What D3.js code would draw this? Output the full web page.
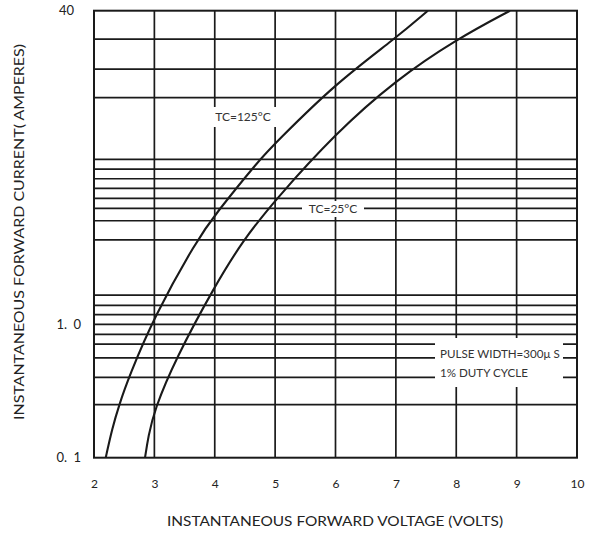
<!DOCTYPE html>
<html>
<head>
<meta charset="utf-8">
<script src="https://cdn.jsdelivr.net/npm/d3@7/dist/d3.min.js"></script>
<style>
  html, body { margin: 0; padding: 0; background: #fff; }
  svg { display: block; }
  text { font-family: Lato, "Open Sans", sans-serif; fill: #222; }
</style>
</head>
<body>
<div id="chart"></div>
<script>
// ---- data ----
const xTicks = [2, 3, 4, 5, 6, 7, 8, 9, 10];
const xTickLabels = ["2", "3", "4", "5", "6", "7", "8", "9", "10"];
const yTicks = [0.1, 1, 40];
const yTickLabels = ["0. 1", "1. 0", "40"];
// horizontal grid lines as drawn on the (distorted) original sheet
const yGrid = [0.25, 0.40, 0.56, 0.71, 0.84, 1.0, 1.12, 1.25, 1.41,
               2.70, 3.38, 3.91, 4.40, 4.95, 5.54, 6.21, 6.96,
               14.4, 20.1, 28.6];
const xGrid = [3, 4, 5, 6, 7, 8, 9];

// Tc = 125 °C
const v125 = [2.194, 2.30, 2.419, 2.58, 3.0, 3.706, 4.0, 4.749, 5.0, 6.0, 7.0, 7.53];
const i125 = [0.10, 0.165, 0.251, 0.405, 1.10, 2.70, 3.62, 6.99, 8.40, 17.0, 29.0, 40];
// Tc = 25 °C
const v25 = [2.845, 2.90, 3.0, 3.342, 4.0, 4.473, 5.0, 6.0, 7.0, 8.0, 8.89];
const i25 = [0.10, 0.145, 0.228, 0.54, 1.57, 2.70, 4.31, 9.45, 17.7, 28.55, 40];

const curveLabels = ["TC=125°C", "TC=25°C"];
const noteLines = ["PULSE WIDTH=300\u03BC S", "1% DUTY CYCLE"];
const xTitle = "INSTANTANEOUS FORWARD VOLTAGE (VOLTS)";
const yTitle = "INSTANTANEOUS FORWARD CURRENT( AMPERES)";

// ---- layout ----
const W = 602, H = 537;
const pL = 94, pR = 577, pT = 10.7, pB = 457.7;
const oneY = 324.3; // where the sheet places 1.0

const svg = d3.select("#chart").append("svg")
  .attr("width", W).attr("height", H)
  .style("background", "#fff");

const x = d3.scaleLinear().domain([2, 10]).range([pL, pR]);
const y = d3.scaleLog().domain([0.1, 1, 40]).range([pB, oneY, pT]);

const ink = "#1a1a1a";

// grid
const g = svg.append("g");
g.selectAll("line.h").data(yGrid).join("line")
  .attr("x1", pL).attr("x2", pR)
  .attr("y1", d => y(d)).attr("y2", d => y(d))
  .attr("stroke", ink).attr("stroke-width", 1.7);
g.selectAll("line.v").data(xGrid).join("line")
  .attr("y1", pT).attr("y2", pB)
  .attr("x1", d => x(d)).attr("x2", d => x(d))
  .attr("stroke", ink).attr("stroke-width", 1.7);
g.append("rect")
  .attr("x", pL).attr("y", pT)
  .attr("width", pR - pL).attr("height", pB - pT)
  .attr("fill", "none").attr("stroke", ink).attr("stroke-width", 2);

// clip
svg.append("clipPath").attr("id", "clip").append("rect")
  .attr("x", pL).attr("y", pT).attr("width", pR - pL).attr("height", pB - pT);

const line = d3.line()
  .x(d => x(d[0])).y(d => y(d[1]))
  .curve(d3.curveBasis);

const curves = [d3.zip(v125, i125), d3.zip(v25, i25)];
svg.append("g").attr("clip-path", "url(#clip)")
  .selectAll("path").data(curves).join("path")
  .attr("d", line)
  .attr("fill", "none").attr("stroke", ink).attr("stroke-width", 2.1);

// curve labels with white backing
function label(txt, cx, cy, bw, bh, size) {
  svg.append("rect").attr("x", cx - bw / 2).attr("y", cy - bh / 2)
    .attr("width", bw).attr("height", bh).attr("fill", "#fff");
  svg.append("text").attr("x", cx).attr("y", cy).attr("dy", "0.36em")
    .attr("text-anchor", "middle").style("font-size", size + "px")
    .style("fill", "#333").text(txt);
}
label(curveLabels[0], 243, 117, 66, 20, 12);
label(curveLabels[1], 333, 209, 62, 16, 12);

// pulse-width note
svg.append("rect").attr("x", 435).attr("y", 338).attr("width", 128).attr("height", 49).attr("fill", "#fff");
svg.selectAll("text.note").data(noteLines).join("text")
  .attr("x", 440).attr("y", (d, i) => 358 + i * 19)
  .style("font-size", "11.6px").style("fill", "#333")
  .text(d => d);

// axes
const xAxis = svg.append("g").attr("transform", `translate(0,${pB})`)
  .call(d3.axisBottom(x).tickValues(xTicks).tickFormat((d, i) => xTickLabels[i])
    .tickSize(0).tickPadding(22));
xAxis.select(".domain").remove();
xAxis.selectAll("text").style("font-size", "12px").style("font-family", "Lato, sans-serif").attr("fill", "#222");

const yAxis = svg.append("g").attr("transform", `translate(${pL},0)`)
  .call(d3.axisLeft(y).tickValues(yTicks).tickFormat((d, i) => yTickLabels[i])
    .tickSize(0).tickPadding(13));
yAxis.select(".domain").remove();
yAxis.selectAll("text").style("font-size", "13px").style("font-family", "Lato, sans-serif").attr("fill", "#222")
  .style("word-spacing", "3px")
  .attr("dx", d => d === 40 ? -7 : 0);

// titles
svg.append("text").attr("x", 335).attr("y", 526)
  .attr("text-anchor", "middle").style("font-size", "12.5px")
  .attr("textLength", 336).attr("lengthAdjust", "spacingAndGlyphs")
  .text(xTitle);
svg.append("text").attr("transform", "translate(24,232) rotate(-90)")
  .attr("text-anchor", "middle").style("font-size", "12.5px")
  .attr("textLength", 376).attr("lengthAdjust", "spacingAndGlyphs")
  .text(yTitle);
</script>
</body>
</html>
